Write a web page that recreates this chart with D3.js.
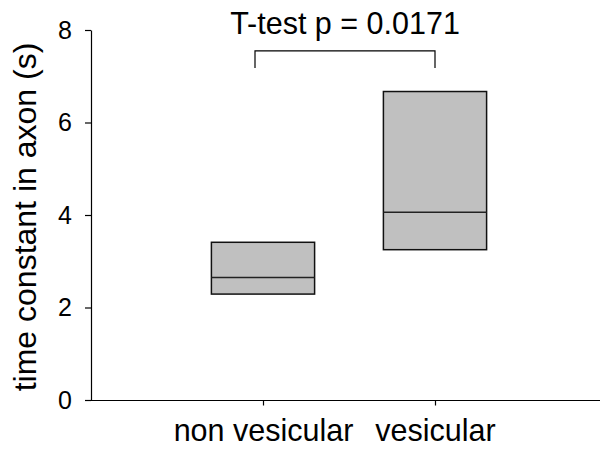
<!DOCTYPE html>
<html>
<head>
<meta charset="utf-8">
<script src="https://cdn.jsdelivr.net/npm/d3@7"></script>
<style>
  html, body { margin: 0; padding: 0; background: #fff; }
  svg { display: block; font-family: Arial, "Liberation Sans", sans-serif; }
</style>
</head>
<body>
<svg id="chart" width="600" height="457"></svg>
<script>
// Box summaries of the axonal time constant per group
const categories = ["non vesicular", "vesicular"];
const q1Values = [2.29, 3.25];
const medianValues = [2.65, 4.06];
const q3Values = [3.41, 6.67];
const yTicks = [0, 2, 4, 6, 8];
const yLabel = "time constant in axon (s)";
const testLabel = "T-test p = 0.0171";
const bracketTop = 7.55;
const bracketFoot = 7.18;

const svg = d3.select("#chart");

const y = d3.scaleLinear().domain([0, 8]).range([400, 30]);
const x = d3.scalePoint().domain(categories).range([91, 607]).padding(1);
const boxWidth = x.step() * 0.6;

// y axis
const yAxis = svg.append("g")
  .attr("transform", "translate(91,0)")
  .call(d3.axisLeft(y).tickValues(yTicks).tickFormat(d3.format("d")).tickSizeInner(6).tickSizeOuter(0).tickPadding(13));
yAxis.select(".domain").attr("stroke", "#000").attr("stroke-width", 1.2);
yAxis.selectAll(".tick line").attr("stroke", "#000").attr("stroke-width", 1.2);
yAxis.selectAll(".tick text").attr("font-size", 25).attr("fill", "#000").attr("font-family", "Arial, 'Liberation Sans', sans-serif");

// x axis
const xAxis = svg.append("g")
  .attr("transform", "translate(0,400.5)")
  .call(d3.axisBottom(x).tickSizeInner(5).tickSizeOuter(0).tickPadding(14));
xAxis.select(".domain").attr("d", "M86,0H600").attr("stroke", "#000").attr("stroke-width", 1.2);
xAxis.selectAll(".tick line").attr("stroke", "#000").attr("stroke-width", 1.2);
xAxis.selectAll(".tick text").attr("font-size", 30.5).attr("fill", "#000").attr("font-family", "Arial, 'Liberation Sans', sans-serif");

// boxes
const boxes = svg.append("g").selectAll("g")
  .data(categories.map((c, i) => ({ c, q1: q1Values[i], med: medianValues[i], q3: q3Values[i] })))
  .join("g");

boxes.append("rect")
  .attr("x", d => x(d.c) - boxWidth / 2)
  .attr("width", boxWidth)
  .attr("y", d => y(d.q3))
  .attr("height", d => y(d.q1) - y(d.q3))
  .attr("fill", "#c0c0c0")
  .attr("stroke", "#111")
  .attr("stroke-width", 1.5);

boxes.append("line")
  .attr("x1", d => x(d.c) - boxWidth / 2)
  .attr("x2", d => x(d.c) + boxWidth / 2)
  .attr("y1", d => y(d.med))
  .attr("y2", d => y(d.med))
  .attr("stroke", "#222")
  .attr("stroke-width", 1.4);

// significance bracket
const bx1 = x(categories[0]) - 8;
const bx2 = x(categories[1]);
svg.append("path")
  .attr("d", `M${bx1},${y(bracketFoot)}V${y(bracketTop)}H${bx2}V${y(bracketFoot)}`)
  .attr("fill", "none")
  .attr("stroke", "#000")
  .attr("stroke-width", 1.2);

svg.append("text")
  .attr("x", (bx1 + bx2) / 2)
  .attr("y", 34)
  .attr("text-anchor", "middle")
  .attr("font-size", 30.5)
  .attr("fill", "#000")
  .text(testLabel);

// y axis title
svg.append("text")
  .attr("transform", `translate(36,217) rotate(-90)`)
  .attr("text-anchor", "middle")
  .attr("font-size", 32)
  .attr("fill", "#000")
  .text(yLabel);
</script>
</body>
</html>
